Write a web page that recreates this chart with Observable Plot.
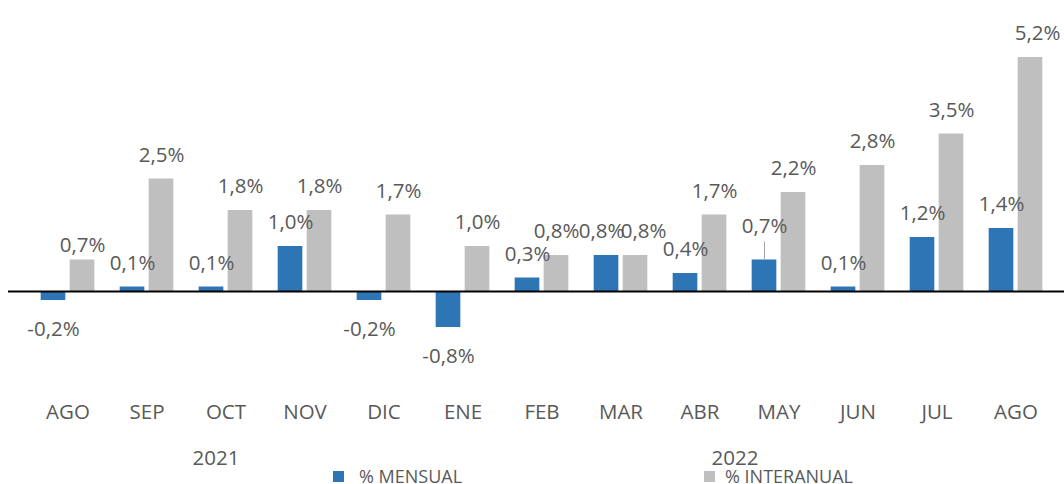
<!DOCTYPE html>
<html>
<head>
<meta charset="utf-8">
<script src="https://cdn.jsdelivr.net/npm/d3@7"></script>
<script src="https://cdn.jsdelivr.net/npm/@observablehq/plot@0.6"></script>
<style>
  html, body { margin: 0; padding: 0; background: #fff; overflow: hidden; }
  #wrap { position: relative; width: 1064px; height: 484px; font-family: "Open Sans", sans-serif; color: #595959; }
  .leg { position: absolute; top: 469px; height: 14px; font-size: 18px; line-height: 14px; display: flex; align-items: center; white-space: nowrap; }
  .sw { display: inline-block; width: 11px; height: 11px; }
  .yr { position: absolute; font-size: 20.5px; line-height: 20px; transform: translateX(-50%); white-space: nowrap; }
</style>
</head>
<body>
<div id="wrap"></div>
<script>
const months = ["AGO","SEP","OCT","NOV","DIC","ENE","FEB","MAR","ABR","MAY","JUN","JUL","AGO"];
const mensual = [-0.2, 0.1, 0.1, 1.0, -0.2, -0.8, 0.3, 0.8, 0.4, 0.7, 0.1, 1.2, 1.4];
const interanual = [0.7, 2.5, 1.8, 1.8, 1.7, 1.0, 0.8, 0.8, 1.7, 2.2, 2.8, 3.5, 5.2];
const yearLabels = ["2021", "2022"];
const seriesNames = ["% MENSUAL", "% INTERANUAL"];
const colors = {mensual: "#2E75B6", interanual: "#BFBFBF"};

const idx = months.map((_, i) => i);
const rowsM = idx.map(i => ({i, v: mensual[i]}));
const rowsI = idx.map(i => ({i, v: interanual[i]}));
const fmt = v => v.toFixed(1).replace(".", ",") + "%";
const textColor = "#595959";
const fs = 20.5;

// label nudges (layout only)
const nudgeM = {7: {dx: -5}, 9: {dy: -34}};
const nudgeI = {0: {dy: -15}, 7: {dx: 8}, 12: {dx: 7}};

function labelMarks(rows, baseDx, nudges) {
  const marks = [];
  const normal = rows.filter(d => !(d.i in nudges));
  marks.push(Plot.text(normal.filter(d => d.v >= 0), {x: "i", y: "v", text: d => fmt(d.v), dx: baseDx, dy: -24, fill: textColor, fontSize: fs}));
  marks.push(Plot.text(normal.filter(d => d.v < 0), {x: "i", y: "v", text: d => fmt(d.v), dx: baseDx, dy: 29, fill: textColor, fontSize: fs}));
  for (const k of Object.keys(nudges)) {
    const d = rows.find(r => r.i === +k);
    const n = nudges[k];
    marks.push(Plot.text([d], {x: "i", y: "v", text: r => fmt(r.v), dx: baseDx + (n.dx || 0), dy: (n.dy !== undefined ? n.dy : (d.v >= 0 ? -24 : 29)), fill: textColor, fontSize: fs}));
  }
  return marks;
}

const chart = Plot.plot({
  width: 1064,
  height: 484,
  marginTop: 0,
  marginBottom: 103,
  marginLeft: 8,
  marginRight: 0,
  style: {fontFamily: "Open Sans, sans-serif", background: "transparent"},
  x: {type: "band", domain: idx, range: [25.3, 1056.7], padding: 0},
  y: {domain: [-2, 291 / 45], axis: null},
  marks: [
    Plot.barY(rowsM, {x: "i", y: "v", fill: colors.mensual, insetLeft: 12.67, insetRight: 41.67}),
    Plot.barY(rowsI, {x: "i", y: "v", fill: colors.interanual, insetLeft: 41.67, insetRight: 12.67}),
    Plot.ruleY([0], {stroke: "#000", strokeWidth: 2}),
    Plot.ruleX(rowsM.filter(d => d.i === 9), {x: "i", y1: "v", y2: d => d.v + 18 / 45, dx: -14.5, stroke: "#A6A6A6", strokeWidth: 1}),
    ...labelMarks(rowsM, -14.5, nudgeM),
    ...labelMarks(rowsI, 14.5, nudgeI),
    Plot.axisX({tickSize: 0, tickPadding: 23, tickFormat: i => months[i], fontSize: fs, color: textColor, label: null})
  ]
});

const wrap = document.getElementById("wrap");
wrap.appendChild(chart);
chart.style.position = "absolute";
chart.style.left = "0";
chart.style.top = "0";

// year labels (centre x)
const yearPos = [{x: 216}, {x: 735}];
yearLabels.forEach((t, k) => {
  const el = document.createElement("div");
  el.className = "yr";
  el.textContent = t;
  el.style.left = yearPos[k].x + "px";
  el.style.top = "447px";
  wrap.appendChild(el);
});

// legend
const legPos = [{left: 333, gap: 15}, {left: 704, gap: 10}];
[colors.mensual, colors.interanual].forEach((c, k) => {
  const el = document.createElement("div");
  el.className = "leg";
  el.style.left = legPos[k].left + "px";
  const sw = document.createElement("span");
  sw.className = "sw";
  sw.style.background = c;
  sw.style.marginRight = legPos[k].gap + "px";
  const tx = document.createElement("span");
  tx.textContent = seriesNames[k];
  el.appendChild(sw);
  el.appendChild(tx);
  wrap.appendChild(el);
});
</script>
</body>
</html>
